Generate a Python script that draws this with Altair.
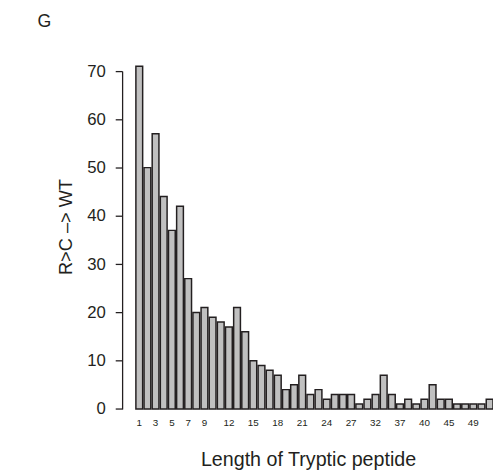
import altair as alt
import pandas as pd

# Peptide lengths (categories) and counts
lengths = list(range(1, 28)) + [28, 30, 32, 33, 35, 37, 38, 39, 40, 41, 43, 45, 46, 47, 49, 50, 53]
counts = [71, 50, 57, 44, 37, 42, 27, 20, 21, 19, 18, 17, 21, 16,
          10, 9, 8, 7, 4, 5, 7, 3, 4, 2, 3, 3, 3, 1, 2, 3, 7, 3, 1, 2,
          1, 2, 5, 2, 2, 1, 1, 1, 1, 2]
x_tick_labels = [1, 3, 5, 7, 9, 12, 15, 18, 21, 24, 27, 32, 37, 40, 45, 49]
y_ticks = [0, 10, 20, 30, 40, 50, 60, 70]

df = pd.DataFrame({"length": lengths, "count": counts})

DARK = "#231f20"
FONT = "Liberation Sans"

shown = "[" + ",".join(str(v) for v in x_tick_labels) + "]"

chart = alt.Chart(df).mark_bar(
    fill="#c0c0c0", stroke=DARK, strokeWidth=1.5
).encode(
    x=alt.X(
        "length:O",
        sort=lengths,
        scale=alt.Scale(paddingInner=0.17, paddingOuter=0),
        axis=alt.Axis(
            labelExpr=f"indexof({shown}, datum.value) >= 0 ? datum.label : ''",
            labelAngle=0, domain=False, ticks=False,
            labelOverlap=False, labelBound=False,
            labelFontSize=10, labelPadding=9, labelColor=DARK, labelFont=FONT,
            title="Length of Tryptic peptide", titleFontSize=20, titleFont=FONT,
            titleFontWeight="normal", titleColor=DARK,
            titleBaseline="alphabetic", titleX=175, titleY=57.5,
            titleAlign="center",
        ),
    ),
    y=alt.Y(
        "count:Q",
        scale=alt.Scale(domain=[0, 70], nice=False),
        axis=alt.Axis(
            values=y_ticks, grid=False, offset=14,
            domainColor=DARK, domainWidth=1.3, tickColor=DARK, tickWidth=1.3,
            tickSize=7, labelPadding=10, labelFontSize=17, labelColor=DARK,
            labelFont=FONT,
            title="R>C –> WT", titleFontSize=18.5, titleFont=FONT,
            titleFontWeight="normal", titleColor=DARK,
            titleBaseline="alphabetic", titleAngle=-90, titleX=-51.3, titleY=158,
            titleAlign="center",
        ),
    ),
).properties(
    width=363,
    height=343.4,
    padding={"left": 130, "top": 60.3, "right": 0, "bottom": 63.3},
    autosize=alt.AutoSizeParams(type="none"),
    title=alt.TitleParams(
        text="G", anchor="start", frame="group", fontSize=18, font=FONT,
        fontWeight="normal", color=DARK, dx=-100, dy=-28,
    ),
).configure_view(stroke=None)

chart.save("out.html", embed_options={"renderer": "svg", "actions": False})
